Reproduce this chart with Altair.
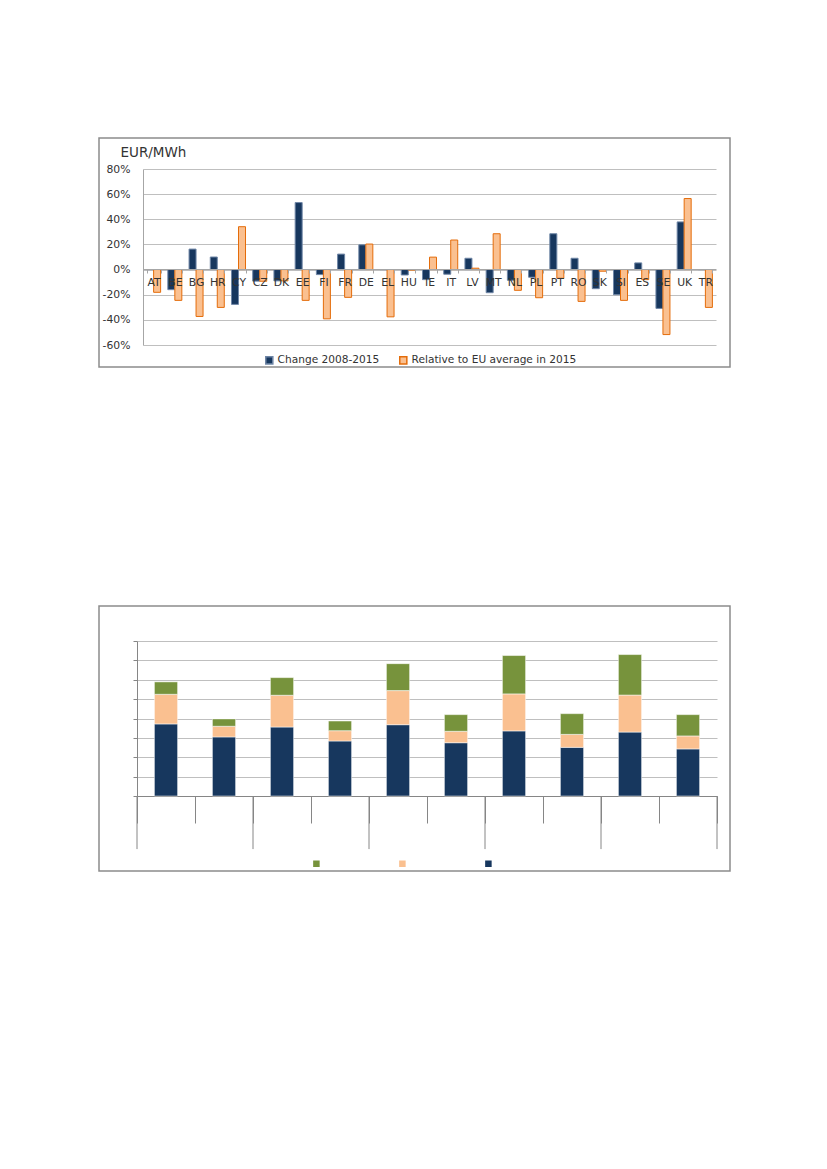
import altair as alt
import pandas as pd

# ---------- Top chart data ----------
countries = ["AT", "BE", "BG", "HR", "CY", "CZ", "DK", "EE", "FI", "FR", "DE", "EL", "HU",
             "IE", "IT", "LV", "MT", "NL", "PL", "PT", "RO", "SK", "SI", "ES", "SE", "UK", "TR"]
change_2008_2015 = [0, -16, 16.3, 10, -27.7, -9.2, -9, 53.3, -4, 12.3, 19.7, 0, -4.3,
                    -8, -3.7, 9, -18.4, -8.5, -6.1, 28.5, 9, -15.2, -20, 5.3, -30.9, 37.9, 0]
relative_eu_2015 = [-18.1, -24.5, -37.3, -30.1, 34.1, -9.3, -9, -24.5, -39.2, -22.1, 20.3, -37.6, -0.4,
                    9.9, 23.5, 1.1, 28.5, -16.5, -22.4, -6.9, -25.3, -1.3, -24.5, -8, -51.7, 56.5, -30.1]
series_top = ["Change 2008-2015", "Relative to EU average in 2015"]
y_ticks_top = [-60, -40, -20, 0, 20, 40, 60, 80]

# ---------- Bottom chart data ----------
bar_ids = ["b1", "b2", "b3", "b4", "b5", "b6", "b7", "b8", "b9", "b10"]
group_starts = ["b1", "b3", "b5", "b7", "b9"]
bottom_part = [3.72, 3.05, 3.56, 2.84, 3.68, 2.75, 3.36, 2.51, 3.30, 2.43]
middle_part = [1.53, 0.55, 1.64, 0.53, 1.76, 0.59, 1.91, 0.67, 1.91, 0.67]
top_part = [0.64, 0.38, 0.91, 0.50, 1.39, 0.86, 1.98, 1.07, 2.09, 1.10]
series_bottom = ["Series 3", "Series 2", "Series 1"]  # legend order: green, peach, navy
y_ticks_bottom = [0, 1, 2, 3, 4, 5, 6, 7, 8]

NAVY = "#17375E"
PEACH = "#FAC090"
ORANGE = "#E46C0A"
GREEN = "#77933C"
GRID = "#BFBFBF"
FRAME = "#8C8C8C"
TXT = "#333333"
FONT = "DejaVu Sans"

# ---------- Top chart ----------
top_rows = []
for c, a, b in zip(countries, change_2008_2015, relative_eu_2015):
    top_rows.append({"country": c, "series": series_top[0], "value": a})
    top_rows.append({"country": c, "series": series_top[1], "value": b})
top_df = pd.DataFrame(top_rows)

W_TOP = 579
H_TOP = 176

legend_top = alt.Legend(title=None, orient="none", direction="horizontal",
                        legendX=127, legendY=186, padding=0,
                        symbolType="square", symbolSize=50, labelLimit=0,
                        labelFont=FONT, labelFontSize=10.6, labelColor=TXT,
                        labelOffset=3, columnPadding=16)

top_bars = alt.Chart(top_df).mark_bar(strokeWidth=1).encode(
    x=alt.X("country:N", sort=countries,
            scale=alt.Scale(range=[6, W_TOP], paddingInner=0.34, paddingOuter=0.17),
            axis=alt.Axis(title=None, orient="bottom", offset=-76, labelAngle=0,
                          tickBand="extent", tickSize=4, tickColor="#A6A6A6",
                          domainColor="#A6A6A6", labelPadding=3, labelFont=FONT,
                          labelFontSize=10.8, labelColor=TXT, grid=False, zindex=1)),
    xOffset=alt.XOffset("series:N", sort=series_top, scale=alt.Scale(paddingInner=0)),
    y=alt.Y("value:Q", scale=alt.Scale(domain=[-60, 80], nice=False, zero=False),
            axis=alt.Axis(values=y_ticks_top, labelExpr="datum.value + '%'",
                          title="EUR/MWh", titleAngle=0, titleX=-23, titleY=-17,
                          titleAlign="left", titleBaseline="middle", titleFont=FONT,
                          titleFontSize=13.5, titleFontWeight="normal", titleColor=TXT,
                          offset=-6, ticks=False, tickSize=0, labelPadding=13,
                          labelFont=FONT, labelFontSize=10.8, labelColor=TXT,
                          domainColor="#A6A6A6", gridColor=GRID, grid=True)),
    color=alt.Color("series:N", sort=series_top,
                    scale=alt.Scale(domain=series_top, range=[NAVY, PEACH]),
                    legend=legend_top),
    stroke=alt.Stroke("series:N", sort=series_top,
                      scale=alt.Scale(domain=series_top, range=["#6F86A6", ORANGE]),
                      legend=legend_top),
)

top_frame = alt.Chart(alt.Data(values=[{"f": 1}])).mark_rect(
    fill="transparent", stroke=FRAME, strokeWidth=1.5
).encode(x=alt.value(-38), x2=alt.value(593), y=alt.value(-31), y2=alt.value(198))

top_chart = alt.layer(top_frame, top_bars).properties(width=W_TOP, height=H_TOP)

# ---------- Bottom chart ----------
bottom_rows = []
for i, bid in enumerate(bar_ids):
    bottom_rows.append({"bar": bid, "series": series_bottom[2], "value": bottom_part[i], "order": 0})
    bottom_rows.append({"bar": bid, "series": series_bottom[1], "value": middle_part[i], "order": 1})
    bottom_rows.append({"bar": bid, "series": series_bottom[0], "value": top_part[i], "order": 2})
bottom_df = pd.DataFrame(bottom_rows)

W_BOT = 580
H_BOT = 155

xb_scale = alt.Scale(domain=bar_ids, range=[0, W_BOT], paddingInner=0, paddingOuter=0)
yb_scale = alt.Scale(domain=[0, 8], nice=False)
xb_axis = alt.Axis(title=None, labels=False, tickBand="extent", tickSize=27,
                   tickColor="#868686", domainColor="#868686", grid=False)
yb_axis = alt.Axis(title=None, labels=False, values=y_ticks_bottom, tickSize=4,
                   tickColor="#868686", domainColor="#868686", gridColor=GRID, grid=True)

bottom_bars = alt.Chart(bottom_df).mark_bar(width=alt.RelativeBandSize(0.4), stroke="white", strokeWidth=0.5).encode(
    x=alt.X("bar:N", sort=bar_ids, scale=xb_scale, axis=xb_axis),
    y=alt.Y("value:Q", stack="zero", scale=yb_scale, axis=yb_axis),
    color=alt.Color("series:N", sort=series_bottom,
                    scale=alt.Scale(domain=series_bottom, range=[GREEN, PEACH, NAVY]),
                    legend=alt.Legend(title=None, orient="none", direction="horizontal",
                                      legendX=174, legendY=217, padding=0,
                                      symbolType="square", symbolSize=64, labelLimit=0,
                                      labelExpr="''", labelFont=FONT,
                                      labelFontSize=10.8, labelOffset=0, columnPadding=71)),
    order=alt.Order("order:Q"),
)

group_df = pd.DataFrame({"bar": group_starts, "lo": [0] * len(group_starts), "hi": [-2.74] * len(group_starts)})
group_ticks = alt.Chart(group_df).mark_rule(color="#868686", strokeWidth=1).encode(
    x=alt.X("bar:N", sort=bar_ids, scale=xb_scale, bandPosition=0, axis=xb_axis),
    y=alt.Y("lo:Q", scale=yb_scale, axis=yb_axis),
    y2="hi:Q",
)
end_ticks = alt.Chart(pd.DataFrame({"bar": [bar_ids[-1]], "lo": [0], "hi": [-2.74]})).mark_rule(
    color="#868686", strokeWidth=1
).encode(
    x=alt.X("bar:N", sort=bar_ids, scale=xb_scale, bandPosition=1, axis=xb_axis),
    y=alt.Y("lo:Q", scale=yb_scale, axis=yb_axis),
    y2="hi:Q",
)

bottom_frame = alt.Chart(alt.Data(values=[{"f": 1}])).mark_rect(
    fill="transparent", stroke=FRAME, strokeWidth=1.5
).encode(x=alt.value(-38), x2=alt.value(593), y=alt.value(-35), y2=alt.value(230))

bottom_chart = alt.layer(bottom_frame, bottom_bars, group_ticks, end_ticks).properties(
    width=W_BOT, height=H_BOT
)

chart = alt.vconcat(top_chart, bottom_chart, spacing=296, bounds="flush").resolve_scale(
    color="independent", stroke="independent", x="independent", y="independent"
).resolve_legend(color="independent", stroke="independent").properties(
    padding={"left": 90, "top": 129, "right": 5, "bottom": 5}
).configure_view(strokeWidth=0).configure_axis(
    domainWidth=1
)

chart.save("out.html", embed_options={"renderer": "svg", "actions": False})
